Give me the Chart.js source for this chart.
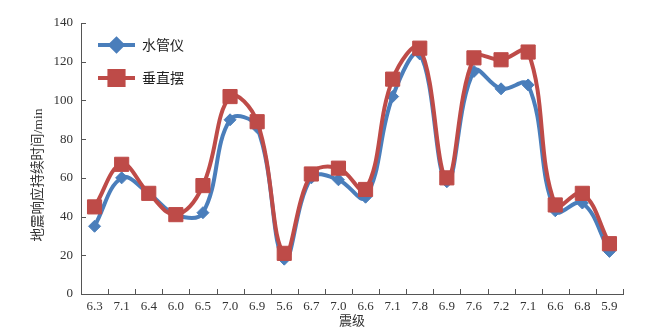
<!DOCTYPE html>
<html>
<head>
<meta charset="utf-8">
<script src="https://cdn.jsdelivr.net/npm/chart.js@4"></script>
<style>
  html, body { margin: 0; padding: 0; background: #fff; }
  #wrap { width: 646px; height: 334px; }
</style>
</head>
<body>
<div id="wrap"><canvas id="chart" width="646" height="334"></canvas></div>
<script>
// magnitude labels along the x axis
const magnitudes = ['6.3', '7.1', '6.4', '6.0', '6.5', '7.0', '6.9', '5.6', '6.7', '7.0',
                    '6.6', '7.1', '7.8', '6.9', '7.6', '7.2', '7.1', '6.6', '6.8', '5.9'];
// response duration (min)
const waterTube = [35, 60, 52, 41, 42, 90, 86, 18, 60, 59, 50, 102, 124, 58, 115, 106, 108, 43, 47, 22];
const pendulum  = [45, 67, 52, 41, 56, 102, 89, 21, 62, 65, 54, 111, 127, 60, 122, 121, 125, 46, 52, 26];
const yTicks = [0, 20, 40, 60, 80, 100, 120, 140];

const blue = '#4a7ebb';
const red = '#be4b48';
const serif = "'Liberation Serif', 'Noto Sans CJK SC', serif";

// inward tick marks, y title and legend with line and marker
const extras = {
    id: 'extras',
    afterDraw(chart) {
        const ctx = chart.ctx;
        const area = chart.chartArea;
        const x = chart.scales.x, y = chart.scales.y;
        ctx.save();
        ctx.strokeStyle = '#555';
        ctx.lineWidth = 1;
        ctx.beginPath();
        for (let i = 0; i <= magnitudes.length; i++) {
            const px = Math.round(x.getPixelForValue(i - 0.5)) + 0.5;
            ctx.moveTo(px, area.bottom);
            ctx.lineTo(px, area.bottom - 5);
        }
        yTicks.forEach(v => {
            const py = Math.round(y.getPixelForValue(v)) + 0.5;
            ctx.moveTo(area.left, py);
            ctx.lineTo(area.left + 5, py);
        });
        ctx.stroke();

        // y title
        ctx.save();
        ctx.translate(38, 175);
        ctx.rotate(-Math.PI / 2);
        ctx.fillStyle = '#333';
        ctx.font = "13.5px " + serif;
        ctx.textAlign = 'center';
        ctx.textBaseline = 'middle';
        ctx.fillText('地震响应持续时间/min', 0, 0);
        ctx.restore();

        // legend
        const items = [
            { label: '水管仪', color: blue, style: 'rectRot', r: 6, dy: 22 },
            { label: '垂直摆', color: red, style: 'rect', r: 10, dy: 55 }
        ];
        items.forEach(it => {
            const ly = area.top + it.dy;
            const x0 = area.left + 17, x1 = area.left + 54;
            ctx.strokeStyle = it.color;
            ctx.lineWidth = 4;
            ctx.beginPath();
            ctx.moveTo(x0, ly);
            ctx.lineTo(x1, ly);
            ctx.stroke();
            ctx.fillStyle = it.color;
            Chart.helpers.drawPoint(ctx, { pointStyle: it.style, radius: it.r, borderWidth: 1, rotation: 0 }, (x0 + x1) / 2, ly);
            ctx.fill();
            ctx.fillStyle = '#222';
            ctx.font = "14px 'Noto Sans CJK SC'";
            ctx.textBaseline = 'middle';
            ctx.textAlign = 'left';
            ctx.fillText(it.label, x1 + 7, ly);
        });
        ctx.restore();
    }
};

new Chart(document.getElementById('chart'), {
    type: 'line',
    data: {
        labels: magnitudes,
        datasets: [
            {
                label: '水管仪',
                data: waterTube,
                borderColor: blue,
                backgroundColor: blue,
                borderWidth: 4,
                tension: 0.4,
                pointStyle: 'rectRot',
                pointRadius: 6,
                pointBorderWidth: 1,
                order: 1
            },
            {
                label: '垂直摆',
                data: pendulum,
                borderColor: red,
                backgroundColor: red,
                borderWidth: 4,
                tension: 0.4,
                pointStyle: 'rect',
                pointRadius: 10,
                pointBorderWidth: 1,
                order: 0
            }
        ]
    },
    options: {
        responsive: false,
        animation: false,
        layout: { padding: { top: 23, right: 23, left: 0, bottom: 0 } },
        plugins: { legend: { display: false }, tooltip: { enabled: false } },
        scales: {
            x: {
                offset: true,
                grid: { display: false, drawTicks: false },
                border: { display: true, color: '#555', width: 1 },
                ticks: { color: '#333', font: { family: serif, size: 13 }, padding: 5, maxRotation: 0, autoSkip: false },
                title: { display: true, text: '震级', color: '#333', font: { family: serif, size: 13 }, padding: { top: 0, bottom: 5 } },
                afterFit(scale) { scale.height = 40; }
            },
            y: {
                min: 0,
                max: 140,
                grid: { display: false, drawTicks: false },
                border: { display: true, color: '#555', width: 1 },
                ticks: {
                    stepSize: 20,
                    color: '#333',
                    font: { family: serif, size: 13 },
                    padding: 8
                },
                afterBuildTicks(scale) { scale.ticks = yTicks.map(v => ({ value: v })); },
                afterFit(scale) { scale.width = 81; }
            }
        }
    },
    plugins: [extras]
});
</script>
</body>
</html>
